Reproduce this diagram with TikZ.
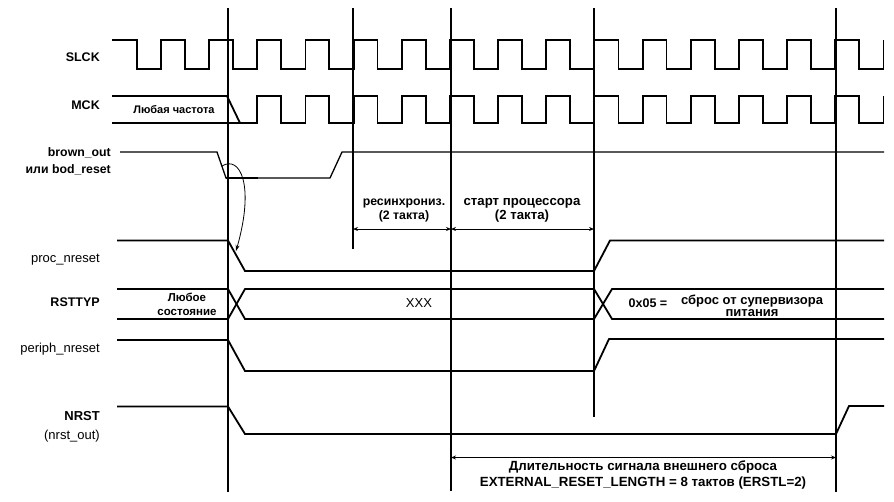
\documentclass[tikz,border=0pt]{standalone}
\usepackage{fontspec}
\setmainfont{Liberation Sans}
\usetikzlibrary{arrows.meta}
\tikzset{
  sig/.style={line width=1.8pt, line join=miter},
  thinsig/.style={line width=1.3pt},
  vline/.style={line width=1.3pt},
  dim/.style={line width=1pt, {Stealth[length=5pt,width=4pt]}-{Stealth[length=5pt,width=4pt]}},
  lab/.style={anchor=east, inner sep=0pt, font=\fontsize{13}{14}\selectfont},
  blab/.style={lab, font=\fontsize{12.5}{14}\selectfont\bfseries},
  ann/.style={inner sep=0pt, align=center, font=\fontsize{12.3}{14}\selectfont\bfseries},
  small/.style={inner sep=0pt, align=center, font=\fontsize{10.5}{13.5}\selectfont\bfseries}
}
\begin{document}
\begin{tikzpicture}[x=1pt,y=-1pt]
\useasboundingbox (0,0) rectangle (894,501);
\def\P{48.17}
% vertical reference lines
\draw[vline] (228,8) -- (228,492);
\draw[vline] (353,8) -- (353,249);
\draw[vline] (451,8) -- (451,491);
\draw[vline] (594,8) -- (594,417);
\draw[vline] (836,8) -- (836,492);
% SLCK
\draw[sig] (112,40) \foreach \k in {0,...,15}{ -- ({136.7+\P*\k},40) -- ({136.7+\P*\k},69) -- ({161+\P*\k},69) -- ({161+\P*\k},40)};
% MCK
\draw[sig] (112,96) -- (227,96) -- (240,123);
\draw[sig] (112,123) -- ({161+\P*2},123) -- ({161+\P*2},96) \foreach \k in {3,...,15}{ -- ({136.7+\P*\k},96) -- ({136.7+\P*\k},123) -- ({161+\P*\k},123) -- ({161+\P*\k},96)};
% brown_out
\draw[thinsig] (120,152) -- (217,152) -- (226,178) -- (330,178) -- (342,152) -- (884,152);
\draw[line width=2.2pt] (226,178) -- (258,178);
% proc_nreset
\draw[sig] (117,240.5) -- (228,240.5) -- (245,271) -- (594,271) -- (610,240.5) -- (884,240.5);
% RSTTYP
\draw[sig] (117,289) -- (228,289) -- (245,319) -- (594,319) -- (612,289) -- (884,289);
\draw[sig] (117,319) -- (228,319) -- (245,289) -- (594,289) -- (612,319) -- (884,319);
% periph_nreset
\draw[sig] (117,340) -- (228,340) -- (245,371) -- (594,371) -- (609,339) -- (884,339);
% NRST
\draw[sig] (117,406.5) -- (228,406.5) -- (245,434) -- (836,434) -- (849,406) -- (884,406);
% labels
\node[blab] (lslck) at (100,57) {SLCK};
\node[blab] (lmck) at (100,105) {MCK};
\node[blab, align=right, font=\fontsize{12.3}{17}\selectfont\bfseries] (lbod) at (111,161.5) {brown\_out\\или bod\_reset};
\node[lab] (lproc) at (100,260) {proc\_nreset};
\node[blab] (lrst) at (100,302.5) {RSTTYP};
\node[lab] (lper) at (100,349) {periph\_nreset};
\node[lab, align=right, font=\fontsize{13}{19}\selectfont] (lnrst) at (100,426.5) {\textbf{NRST}\\(nrst\_out)};
% inner texts
\node[small, font=\fontsize{11}{13.5}\selectfont\bfseries] (tany) at (174,109.5) {Любая частота};
\node[small, font=\fontsize{11.5}{14}\selectfont\bfseries] (tstate) at (187,304.5) {Любое\\состояние};
\node[inner sep=0pt, font=\fontsize{13}{14}\selectfont] (txxx) at (419,303) {XXX};
\node[inner sep=0pt, font=\fontsize{12.5}{14}\selectfont\bfseries] (t05) at (648,303.5) {0x05 =};
\node[inner sep=0pt, align=center, font=\fontsize{13}{12}\selectfont\bfseries] (tsup) at (752,305.5) {сброс от супервизора\\питания};
% annotations
\node[ann] (tresync) at (404,210) {ресинхрониз.\\(2 такта)};
\node[ann, font=\fontsize{13.2}{14}\selectfont\bfseries] (tstart) at (522,210) {старт процессора\\(2 такта)};
\node[ann, font=\fontsize{13.3}{16}\selectfont\bfseries] (text) at (643,474.5) {Длительность сигнала внешнего сброса\\EXTERNAL\_RESET\_LENGTH = 8 тактов (ERSTL=2)};
% dimension arrows
\coordinate (a1) at (353,229);
\coordinate (a2) at (451,229);
\coordinate (a3) at (594,229);
\draw[dim] (a1) -- (a2);
\draw[dim] (a2) -- (a3);
\coordinate (b1) at (451,457.5);
\coordinate (b2) at (836,457.5);
\draw[dim] (b1) -- (b2);
% causal arrow
\coordinate (c1) at (222,166);
\coordinate (c2) at (236,251);
\draw[line width=0.8pt, -{Stealth[length=6pt,width=4pt]}] (c1) .. controls (240,155) and (255,185) .. (c2);
\end{tikzpicture}
\end{document}
